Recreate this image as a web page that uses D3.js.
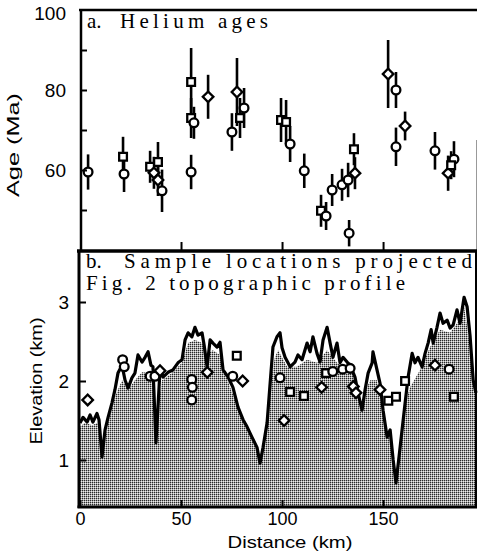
<!DOCTYPE html>
<html>
<head>
<meta charset="utf-8">
<script src="https://cdn.jsdelivr.net/npm/d3@7"></script>
<style>
body { margin: 0; background: #fff; }
</style>
</head>
<body>
<div class="chart"></div>
<script>
const width = 478;
const height = 557;

// panel a: helium ages
const ageKm = [4.0,21.3,21.8,34.7,36.6,38.6,38.6,40.6,55,55,56.4,55,63.4,77.7,75.2,79.2,81.2,99.5,102,104,111,119.3,121.8,124.8,129.7,132.7,135.6,136.1,133.2,152.5,156.4,156.4,160.9,175.7,182.2,185.1,183.7];
const ageMa = [59.5,63.3,59,60.8,59.3,62,57.5,54.8,82,73,71.8,59.5,78.3,79.5,69.5,73,75.5,72.5,72,66.5,59.8,49.8,48.5,55,56.3,57.5,65.2,59.2,44.2,84,80,65.8,71,64.8,59.2,62.7,61.2];
const ageErr = [4.4,5,4.5,4,4,5,4,5.3,8.5,5,4,4.3,5.5,8.5,4.7,5,5,5.5,5.5,4.5,4.3,4,3.5,4,4,4.3,4,4,3.3,8.5,4.5,4.8,3.6,4.7,4.4,4.5,3.5];
const ageShape = ["c","s","c","s","d","s","d","c","s","s","c","c","d","d","c","s","c","s","s","c","c","s","c","c","c","c","s","d","c","d","c","c","d","c","d","c","s"];

// panel b: sample elevations
const sampKm = [3.8,21.1,21.9,34.7,37.1,39.6,55.3,55.6,55.3,63,77.6,75.6,80.5,99,104,110.9,101,119.6,121.8,125.1,130,133.7,135.3,136.6,148.5,152.6,156.4,160.9,175.7,182.7,185.1];
const sampElev = [1.76,2.27,2.18,2.06,2.06,2.13,2.02,1.92,1.76,2.11,2.32,2.06,2.0,2.04,1.86,1.81,1.5,1.92,2.1,2.12,2.15,2.16,1.93,1.85,1.89,1.75,1.8,2.0,2.2,2.15,1.8];
const sampShape = ["d","c","c","c","c","d","c","c","c","d","s","c","d","c","s","s","d","d","s","c","c","c","d","d","d","s","s","s","d","c","s"];

// topographic profile: black ridge line
const ridgeKm = [0,1.5,3.5,5,6.4,8.4,9.4,10.9,12.4,13.9,15.8,17.3,18.8,20.8,22.3,23.8,25.7,27.2,28.7,30.7,32.2,33.7,35.1,36.1,37.6,38.6,39.6,41.1,43.6,46,48.5,50.5,52,53.5,55.4,56.9,58.4,60.4,61.4,62.9,64.4,65.8,67.8,69.3,70.8,73.3,75.7,78.2,80.7,82.7,85.1,87.6,89.1,90.6,92.6,94.1,95.5,97.5,99,100,101.5,104,106.4,107.9,109.9,112.4,113.9,115.3,117.3,118.8,120.3,122.3,123.8,125.2,127.2,128.7,130.2,132.2,133.7,136.1,137.6,139.6,141.1,142.6,144.6,145,147,148.5,150,152,153.5,155,156.4,157.9,159.4,160.9,162.4,164.4,165.8,167.3,169.3,170.8,172.3,173.8,174.8,176.7,178.2,179.7,181.7,183.2,184.7,186.6,188.1,190.1,191.6,193.1,194.6,196];
const ridgeElev = [1.47,1.54,1.48,1.57,1.48,1.59,1.51,1.04,1.38,1.54,1.72,1.89,2.10,2.20,2.01,1.91,2.04,2.10,2.33,2.24,2.30,2.37,2.20,2.18,1.22,1.67,2.14,2.05,2.11,2.14,2.23,2.27,2.52,2.61,2.56,2.68,2.58,2.61,2.46,2.18,2.52,2.48,2.43,2.49,2.14,2.05,1.92,1.67,1.51,1.42,1.29,1.16,0.96,1.16,1.47,1.97,2.43,2.56,2.61,2.42,2.30,2.18,2.24,2.33,2.27,2.48,2.37,2.56,2.35,2.24,2.52,2.68,2.48,2.30,2.48,2.23,2.30,2.24,2.20,2.05,1.85,1.63,1.89,2.10,2.23,2.37,2.14,1.97,1.63,1.29,1.38,1.00,0.71,1.04,1.38,1.72,2.05,2.35,2.23,2.30,2.18,2.35,2.48,2.65,2.48,2.68,2.86,2.73,2.77,2.67,2.71,2.90,2.73,3.06,2.94,2.56,2.01,1.85];

// topographic profile: shaded (lower) profile
const shadeKm = [0,2.5,5.9,8.9,10.9,13.9,17.3,20.8,23.8,27.2,30.7,34.7,36.1,37.6,39.1,40.6,45.5,50.5,53.5,56.9,60.4,63.4,65.8,69.3,70.8,74.3,78.2,82.7,87.6,89.1,90.6,92.6,94.1,96.5,98,102.5,107.4,112.4,117.3,122.3,127.2,132.2,135.1,138.6,143.6,147,150,152,153.5,155,156.4,157.9,159.4,160.9,163.4,168.3,173.3,178.2,183.2,186.6,190.1,193.1,196];
const shadeElev = [1.42,1.47,1.44,1.47,1.04,1.47,1.80,2.01,1.89,2.01,2.11,2.10,2.08,1.22,1.76,2.01,2.10,2.23,2.48,2.52,2.48,2.35,2.39,2.33,2.18,1.92,1.67,1.42,1.16,0.96,1.16,1.47,1.97,2.30,2.39,2.18,2.18,2.27,2.23,2.39,2.23,2.14,2.14,1.72,2.01,2.01,1.59,1.29,1.38,1.0,0.71,1.04,1.38,1.72,1.92,2.14,2.43,2.65,2.61,2.73,2.94,2.43,1.80];

const xTicks = [0, 50, 100, 150];
const ageLabels = [60, 80, 100];
const ageMinor = [50, 60, 70, 80, 90];
const elevTicks = [1, 2, 3];

const svg = d3.select('.chart')
  .append('svg')
  .attr('width', width)
  .attr('height', height);

// scales (shared distance axis)
const x = d3.scaleLinear().domain([0, 196]).range([80, 476]);
const yA = d3.scaleLinear().domain([40, 100]).range([250, 10]);
const yB = d3.scaleLinear().domain([0.405, 3.633]).range([507, 252]);

// stipple pattern for the profile
const defs = svg.append('defs');
const pat = defs.append('pattern')
  .attr('id', 'stip').attr('patternUnits', 'userSpaceOnUse')
  .attr('width', 2).attr('height', 2);
pat.append('rect').attr('width', 2).attr('height', 2).attr('fill', '#a6a6a6');
pat.append('rect').attr('width', 1).attr('height', 1).attr('fill', '#2a2a2a');
pat.append('rect').attr('x', 1).attr('y', 1).attr('width', 1).attr('height', 1).attr('fill', '#ececec');

const ridge = ridgeKm.map((k, i) => [k, ridgeElev[i]]);
const shade = shadeKm.map((k, i) => [k, shadeElev[i]]);

const area = d3.area().x(d => x(d[0])).y0(yB.range()[0]).y1(d => yB(d[1]));
const line = d3.line().x(d => x(d[0])).y(d => yB(d[1]));

defs.append('clipPath').attr('id', 'underRidge')
  .append('path').attr('d', area(ridge));

svg.append('path')
  .attr('d', area(shade))
  .attr('fill', 'url(#stip)')
  .attr('clip-path', 'url(#underRidge)');

svg.append('path')
  .attr('d', line(ridge))
  .attr('fill', 'none')
  .attr('stroke', '#000')
  .attr('stroke-width', 3.2)
  .attr('stroke-linejoin', 'round');

// symbols
const shapes = {
  c: d3.symbol(d3.symbolCircle, 60),
  s: d3.symbol(d3.symbolSquare, 60),
  d: d3.symbol(d3.symbolSquare, 56)
};
function mark(g, shape, cx, cy) {
  g.append('path')
    .attr('d', shapes[shape]())
    .attr('transform', `translate(${cx},${cy})` + (shape === 'd' ? ' rotate(45)' : ''))
    .attr('fill', '#fff')
    .attr('stroke', '#000')
    .attr('stroke-width', 2.3);
}

// panel a: error bars then symbols
const gA = svg.append('g');
ageKm.forEach((k, i) => {
  gA.append('line')
    .attr('x1', x(k)).attr('x2', x(k))
    .attr('y1', yA(ageMa[i] + ageErr[i])).attr('y2', yA(ageMa[i] - ageErr[i]))
    .attr('stroke', '#000').attr('stroke-width', 2.6);
});
ageKm.forEach((k, i) => mark(gA, ageShape[i], x(k), yA(ageMa[i])));

// panel b samples
const gB = svg.append('g');
sampKm.forEach((k, i) => mark(gB, sampShape[i], x(k), yB(sampElev[i])));

// frames
const frame = svg.append('g').attr('stroke', '#000').attr('fill', 'none');
frame.append('line').attr('x1', 79).attr('x2', 477).attr('y1', 10).attr('y2', 10).attr('stroke-width', 2.5);
frame.append('line').attr('x1', 81).attr('x2', 81).attr('y1', 9).attr('y2', 251).attr('stroke-width', 2.5);
frame.append('line').attr('x1', 476.5).attr('x2', 476.5).attr('y1', 140).attr('y2', 250).attr('stroke-width', 1).attr('stroke', '#999');
frame.append('line').attr('x1', 77).attr('x2', 477).attr('y1', 251).attr('y2', 251).attr('stroke-width', 3.5);
frame.append('line').attr('x1', 79).attr('x2', 79).attr('y1', 250).attr('y2', 508).attr('stroke-width', 3);
frame.append('line').attr('x1', 77.5).attr('x2', 477).attr('y1', 507).attr('y2', 507).attr('stroke-width', 3);
frame.append('line').attr('x1', 476).attr('x2', 476).attr('y1', 250).attr('y2', 508).attr('stroke-width', 2);

// axes
const font = "'Liberation Sans', Arial, Helvetica, sans-serif";

function styleAxis(g) {
  g.select('.domain').remove();
  g.selectAll('.tick line').attr('stroke', '#000').attr('stroke-width', 2);
  g.selectAll('.tick text').attr('fill', '#000').style('font-family', font).style('font-size', '19px');
}

svg.append('g')
  .attr('transform', 'translate(81,0)')
  .call(d3.axisLeft(yA).tickValues(ageMinor).tickSize(-6).tickFormat(''))
  .call(styleAxis);
svg.append('g')
  .attr('transform', 'translate(66,0)')
  .call(d3.axisLeft(yA).tickValues(ageLabels).tickSize(0).tickPadding(0).tickFormat(d3.format('d')))
  .call(styleAxis)
  .selectAll('.tick text').attr('dy', d => d === 100 ? '0.5em' : '0.36em');

svg.append('g')
  .attr('transform', 'translate(0,250)')
  .call(d3.axisBottom(x).tickValues([50, 100, 150]).tickSize(-8).tickFormat(''))
  .call(styleAxis);

svg.append('g')
  .attr('transform', 'translate(79,0)')
  .call(d3.axisLeft(yB).tickValues(elevTicks).tickSize(-7).tickPadding(10).tickFormat(d3.format('d')))
  .call(styleAxis);

svg.append('g')
  .attr('transform', 'translate(0,507)')
  .call(d3.axisBottom(x).tickValues(xTicks).tickSize(-7).tickPadding(5).tickFormat(d3.format('d')))
  .call(styleAxis)
  .selectAll('.tick text').style('font-size', '18px');

// axis titles
svg.append('text')
  .attr('transform', 'translate(19,145) rotate(-90)')
  .attr('text-anchor', 'middle')
  .attr('textLength', 104).attr('lengthAdjust', 'spacingAndGlyphs')
  .style('font-family', font).style('font-size', '16px')
  .text('Age (Ma)');

svg.append('text')
  .attr('transform', 'translate(42,381) rotate(-90)')
  .attr('text-anchor', 'middle')
  .attr('textLength', 127).attr('lengthAdjust', 'spacingAndGlyphs')
  .style('font-family', font).style('font-size', '17px')
  .text('Elevation (km)');

svg.append('text')
  .attr('x', 290).attr('y', 548)
  .attr('text-anchor', 'middle')
  .attr('textLength', 125).attr('lengthAdjust', 'spacingAndGlyphs')
  .style('font-family', font).style('font-size', '17px')
  .text('Distance (km)');

// panel titles
const serif = "'Liberation Serif', 'Times New Roman', serif";
function title(tx, ty, str, len) {
  const t = svg.append('text')
    .attr('x', tx).attr('y', ty)
    .style('font-family', serif).style('font-size', '21px')
    .text(str);
  if (len) t.attr('textLength', len).attr('lengthAdjust', 'spacing');
}
title(87, 28, 'a.');
title(120, 28, 'Helium ages', 148);
title(86, 268, 'b.');
title(124, 268, 'Sample locations projected', 348);
title(86, 290, 'Fig. 2 topographic profile', 319);
</script>
</body>
</html>
